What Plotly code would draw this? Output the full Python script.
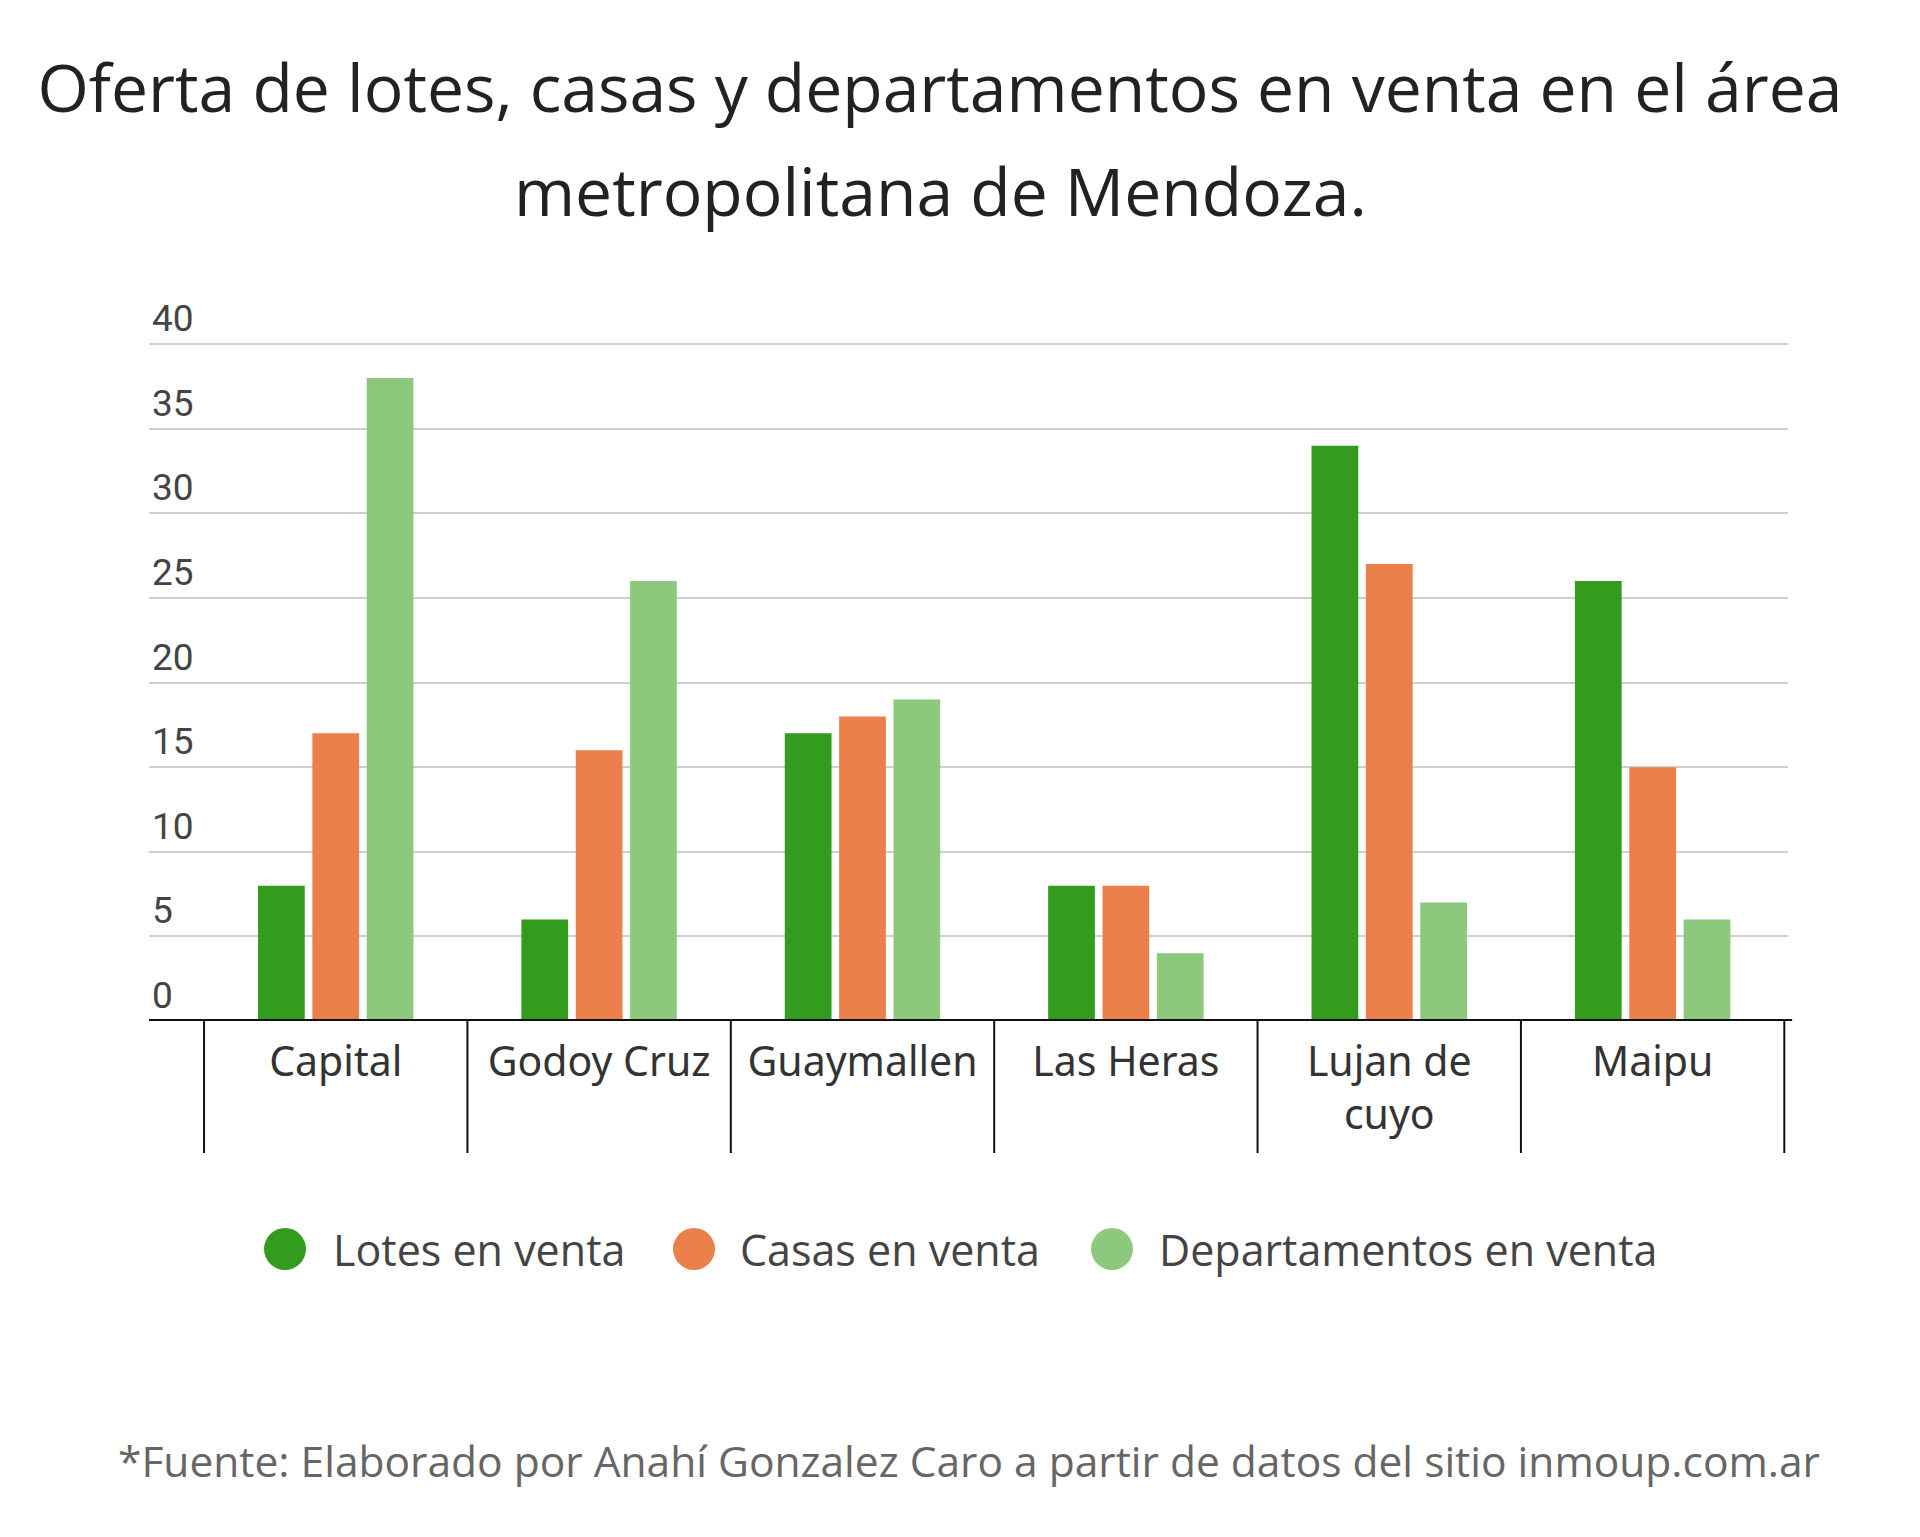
import plotly.graph_objects as go

categories = ["Capital", "Godoy Cruz", "Guaymallen", "Las Heras", "Lujan de cuyo", "Maipu"]
tick_labels = ["Capital", "Godoy Cruz", "Guaymallen", "Las Heras", "Lujan de<br>cuyo", "Maipu"]
lotes = [8, 6, 17, 8, 34, 26]
casas = [17, 16, 18, 8, 27, 15]
departamentos = [38, 26, 19, 4, 7, 6]
series_names = ["Lotes en venta", "Casas en venta", "Departamentos en venta"]
colors = ["#339B1E", "#EC804D", "#8CC97D"]
y_ticks = [0, 5, 10, 15, 20, 25, 30, 35, 40]

W, H = 1920, 1537
Y_MAX = 44.5
px_per_unit = (1021 - 344) / 40.0
L, R, B = 149, 132, 516
T = int(round(344 - (Y_MAX - 40) * px_per_unit))
plot_h = H - T - B
plot_w = W - L - R
base_y = H - B  # pixel y of value 0
title_cx = 940


def py(pix):
    """pixel y (from top) -> paper y"""
    return (base_y - pix) / plot_h


def px(pix):
    return (pix - L) / plot_w


fig = go.Figure()
for name, vals, col in zip(series_names, [lotes, casas, departamentos], colors):
    fig.add_trace(go.Bar(x=categories, y=vals, name=name, marker=dict(color=col, line=dict(width=0)),
                         showlegend=False))

shapes = []
for i in range(len(categories) + 1):
    shapes.append(dict(type="line", xref="x", yref="paper", x0=i - 0.5, x1=i - 0.5,
                       y0=0, y1=py(1153), line=dict(color="#111", width=2)))
shapes.append(dict(type="line", xref="paper", yref="y", x0=0, x1=1.0025, y0=0, y1=0,
                   line=dict(color="#111", width=4)))

legend_cx = [285, 694, 1112]
legend_tx = [331, 738, 1157]
legend_y = 1249
r = 21
annotations = []
for cx, tx, col, name in zip(legend_cx, legend_tx, colors, series_names):
    shapes.append(dict(type="circle", xref="paper", yref="paper",
                       x0=px(cx - r), x1=px(cx + r), y0=py(legend_y + r), y1=py(legend_y - r),
                       fillcolor=col, line=dict(width=0)))
    annotations.append(dict(text=name, xref="paper", yref="paper", x=px(tx), y=py(legend_y),
                            xanchor="left", yanchor="middle", showarrow=False,
                            font=dict(family="Open Sans", size=43, color="#444")))

annotations.append(dict(text="metropolitana de Mendoza.", xref="paper", yref="paper",
                        x=px(title_cx), y=py(190), xanchor="center", yanchor="middle", showarrow=False,
                        font=dict(family="Open Sans", size=66, color="#222", weight=500)))
annotations.append(dict(text="*Fuente: Elaborado por Anahí Gonzalez Caro a partir de datos del sitio inmoup.com.ar",
                        xref="paper", yref="paper", x=px(116), y=py(1460),
                        xanchor="left", yanchor="middle", showarrow=False,
                        font=dict(family="Open Sans", size=42.5, color="#666")))

fig.update_layout(
    width=W, height=H,
    margin=dict(l=L, r=R, t=T, b=B),
    paper_bgcolor="white", plot_bgcolor="white",
    title=dict(text="Oferta de lotes, casas y departamentos en venta en el área",
               x=title_cx / W, xanchor="center", xref="container",
               y=1 - 89 / H, yanchor="middle", yref="container",
               font=dict(family="Open Sans", size=66, color="#222", weight=500)),
    barmode="group", bargap=0.381, bargroupgap=0.14,
    shapes=shapes, annotations=annotations,
    xaxis=dict(type="category", range=[-0.709, 5.514], showgrid=False, zeroline=False,
               showline=False, ticks="", tickvals=categories, ticktext=tick_labels,
               ticklabelstandoff=13,
               tickfont=dict(family="Noto Sans", size=41, color="#333")),
    yaxis=dict(range=[0, Y_MAX], tickvals=y_ticks, showgrid=True, gridcolor="#cfcfcf", gridwidth=1.5,
               zeroline=False, showline=False, ticks="", ticklabelposition="inside top",
               tickfont=dict(family="Roboto", size=37, color="#444")),
)

fig.write_html("out.html")
